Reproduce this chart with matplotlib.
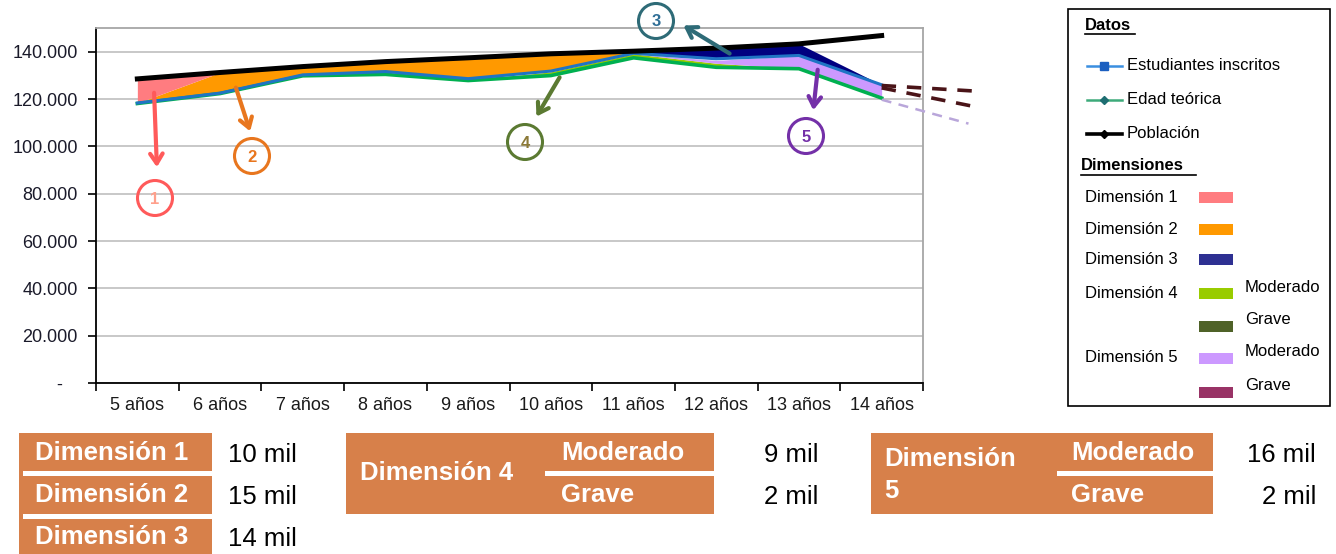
import numpy as np
import matplotlib
matplotlib.use('Agg')
import matplotlib.pyplot as plt
from matplotlib.patches import Rectangle, Ellipse
from matplotlib.ticker import FuncFormatter, FixedLocator

plt.rcParams['font.family'] = ['Liberation Sans', 'DejaVu Sans']

W, H = 1336, 554

BLACK = '#000000'
BLUE = '#1F74C4'
GREEN = '#00B050'
PINK = '#FF7C80'
ORANGE = '#FF9900'
NAVY = '#000080'
LIME = '#99CC00'
OLIVE = '#4F6228'
LILAC = '#CC99FF'
PLUM = '#993366'
BOX = '#D7804A'

# data
edades = ['5 años', '6 años', '7 años', '8 años', '9 años',
          '10 años', '11 años', '12 años', '13 años', '14 años']
poblacion = [128500, 131200, 133700, 135800, 137400, 139100, 140200, 141500, 143300, 146800]
inscritos = [118300, 122500, 130200, 131600, 128600, 131800, 139300, 137000, 138400, 126000]
edad_teorica = [118100, 122300, 129800, 130400, 127800, 129900, 137400, 133400, 132800, 120400]

dim1 = [10200, 0, 0, 0, 0, 0, 0, 0, 0, 0]
dim2 = [0, 8700, 3500, 4200, 8800, 7300, 0, 0, 0, 0]
dim3 = [0, 0, 0, 0, 0, 0, 900, 4500, 4900, 0]
dim4_grave = [0, 0, 0, 0, 0, 500, 500, 700, 0, 0]
dim4_mod = [0, 0, 0, 0, 0, 1100, 1200, 1000, 0, 0]
dim5_mod = [0, 0, 0, 0, 0, 0, 0, 1200, 5600, 5600]

# projections past 14 años
proy_x = [9, 10.15]
proy_a = [125700, 123300]
proy_b = [124700, 116600]
proy_lila_x = [9, 10.05]
proy_lila = [119700, 109600]

tabla_izq = [('Dimensión 1', '10 mil'), ('Dimensión 2', '15 mil'), ('Dimensión 3', '14 mil')]
tabla_d4 = [('Moderado', '9 mil'), ('Grave', '2 mil')]
tabla_d5 = [('Moderado', '16 mil'), ('Grave', '2 mil')]


def fmt_miles(v, pos=None):
    if v == 0:
        return '-   '
    return f'{v:,.0f}'.replace(',', '.')


fig = plt.figure(figsize=(W / 100, H / 100), dpi=100)
ax = fig.add_axes([96 / W, 1 - 383 / H, (923 - 96) / W, (383 - 28) / H])
x = np.arange(len(edades))

ins = np.array(inscritos)
top3 = ins + np.array(dim3)
top2 = top3 + np.array(dim2)
top1 = top2 + np.array(dim1)
ax.fill_between(x, ins, top3, color=NAVY, lw=0, zorder=1)
ax.fill_between(x, top3, top2, color=ORANGE, lw=0, zorder=1)
ax.fill_between(x, top2, top1, color=PINK, lw=0, zorder=1)

et = np.array(edad_teorica)
low1 = et + np.array(dim4_grave)
low2 = low1 + np.array(dim4_mod)
low3 = low2 + np.array(dim5_mod)
ax.fill_between(x, et, low1, color=OLIVE, lw=0, zorder=1)
ax.fill_between(x, low1, low2, color=LIME, lw=0, zorder=1)
ax.fill_between(x, low2, low3, color=LILAC, lw=0, zorder=1)

ax.plot(x, edad_teorica, color=GREEN, lw=2.6, zorder=3)
ax.plot(x, inscritos, color=BLUE, lw=2.2, zorder=3)
ax.plot(x, poblacion, color=BLACK, lw=3.6, zorder=4)

ax.plot(proy_x, proy_a, color='#4A1418', lw=2.6, ls=(0, (4, 3)), clip_on=False, zorder=3)
ax.plot(proy_x, proy_b, color='#4A1418', lw=2.6, ls=(0, (4, 3)), clip_on=False, zorder=3)
ax.plot(proy_lila_x, proy_lila, color='#B9A6DA', lw=1.8, ls=(0, (4, 3)), clip_on=False, zorder=3)

ax.set_xlim(-0.5, 9.5)
ax.set_ylim(0, 150000)
ax.set_yticks(range(0, 140001, 20000))
ax.yaxis.set_major_formatter(FuncFormatter(fmt_miles))
ax.yaxis.grid(True, color='#BFBFBF', lw=1.2)
ax.set_axisbelow(True)
ax.set_xticks(x)
ax.set_xticklabels(edades)
ax.xaxis.set_minor_locator(FixedLocator(np.arange(-0.5, 10, 1)))
ax.tick_params(axis='x', which='major', length=0, pad=10, labelsize=13, labelcolor='#1a1a1a')
ax.tick_params(axis='x', which='minor', length=6, width=1.2, direction='out')
ax.tick_params(axis='y', length=6, width=1.2, pad=7, labelsize=13, labelcolor='#1a1a2a')
for side in ['left', 'bottom']:
    ax.spines[side].set_color('black')
    ax.spines[side].set_linewidth(1.3)
for side in ['top', 'right']:
    ax.spines[side].set_color('#A6A6A6')
    ax.spines[side].set_linewidth(1.3)

# overlay in pixel units for callouts, legend and tables
ov = fig.add_axes([0, 0, 1, 1], zorder=5)
ov.set_xlim(0, W)
ov.set_ylim(H, 0)
ov.set_axis_off()

callouts = [
    ('1', (155, 198), (154, 90), (157, 170), '#FF5A5A', '#FFA08C'),
    ('2', (252, 156), (235, 85), (251, 134), '#E8761E', '#E8761E'),
    ('3', (656, 21), (732, 55), (681, 24), '#2E6B77', '#2F6E96'),
    ('4', (525, 142), (561, 75), (535, 119), '#5B7A32', '#8C7A38'),
    ('5', (806, 136), (818, 67), (813, 113), '#7430A8', '#7430A8'),
]
for lab, (cx, cy), start, end, col, tcol in callouts:
    ov.add_patch(Ellipse((cx, cy), 35, 35, fill=False, ec=col, lw=2.2))
    ov.text(cx, cy + 1, lab, color=tcol, fontsize=12, fontweight='bold', ha='center', va='center')
    ov.annotate('', xy=end, xytext=start,
                arrowprops=dict(arrowstyle='->,head_length=0.7,head_width=0.45', color=col, lw=3))

# legend box
ov.add_patch(Rectangle((1068, 9), 262, 397, fill=False, ec='black', lw=1.2))
ov.text(1085, 25, 'Datos', fontsize=12, fontweight='bold', va='center')
ov.plot([1085, 1135], [34, 34], color='black', lw=1.2)
ov.text(1081, 166, 'Dimensiones', fontsize=12, fontweight='bold', va='center')
ov.plot([1081, 1196], [175, 175], color='black', lw=1.2)

ov.plot([1087, 1122], [66, 66], color='#3A8FE0', lw=1.8)
ov.plot([1104], [66], marker='s', ms=6, color='#1B5FC0')
ov.text(1127, 66, 'Estudiantes inscritos', fontsize=12, va='center')
ov.plot([1087, 1122], [100, 100], color='#3DAA7A', lw=1.8)
ov.plot([1104], [100], marker='D', ms=4.5, color='#1E6E72')
ov.text(1127, 100, 'Edad teórica', fontsize=12, va='center')
ov.plot([1087, 1122], [134, 134], color='black', lw=2.6)
ov.plot([1104], [134], marker='D', ms=4.5, color='black')
ov.text(1127, 134, 'Población', fontsize=12, va='center')

leg_rows = [
    ('Dimensión 1', PINK, 197, ''),
    ('Dimensión 2', ORANGE, 229, ''),
    ('Dimensión 3', '#2E3092', 259, ''),
    ('Dimensión 4', LIME, 293, 'Moderado'),
    ('', OLIVE, 326, 'Grave'),
    ('Dimensión 5', LILAC, 358, 'Moderado'),
    ('', PLUM, 392, 'Grave'),
]
for name, col, yy, sub in leg_rows:
    if name:
        ov.text(1085, yy, name, fontsize=12, va='center')
    ov.add_patch(Rectangle((1199, yy - 5), 34, 11, color=col, lw=0))
    if sub:
        ov.text(1245, yy - 6, sub, fontsize=12, va='center')

# tables under the chart
FS = 18.5
ov.add_patch(Rectangle((19, 433), 193, 121, color=BOX, lw=0))
for yy in [471, 514]:
    ov.add_patch(Rectangle((23, yy), 189, 5, color='white', lw=0))
for i, (name, val) in enumerate(tabla_izq):
    yy = 453 + 42 * i
    ov.text(35, yy, name, color='white', fontsize=FS, fontweight='bold', va='center')
    ov.text(228, yy + 2, val, color='black', fontsize=FS, va='center')

ov.add_patch(Rectangle((346, 433), 368, 81, color=BOX, lw=0))
ov.add_patch(Rectangle((545, 471), 169, 5, color='white', lw=0))
ov.text(360, 473, 'Dimensión 4', color='white', fontsize=FS, fontweight='bold', va='center')
for i, (name, val) in enumerate(tabla_d4):
    yy = 453 + 42 * i
    ov.text(561, yy, name, color='white', fontsize=FS, fontweight='bold', va='center')
    ov.text(818, yy + 2, val, color='black', fontsize=FS, va='center', ha='right')

ov.add_patch(Rectangle((871, 433), 342, 81, color=BOX, lw=0))
ov.add_patch(Rectangle((1057, 471), 156, 5, color='white', lw=0))
ov.text(884, 459, 'Dimensión', color='white', fontsize=FS, fontweight='bold', va='center')
ov.text(884, 491, '5', color='white', fontsize=FS, fontweight='bold', va='center')
for i, (name, val) in enumerate(tabla_d5):
    yy = 453 + 42 * i
    ov.text(1071, yy, name, color='white', fontsize=FS, fontweight='bold', va='center')
    ov.text(1316, yy + 2, val, color='black', fontsize=FS, va='center', ha='right')

fig.savefig('out.png', dpi=100)
